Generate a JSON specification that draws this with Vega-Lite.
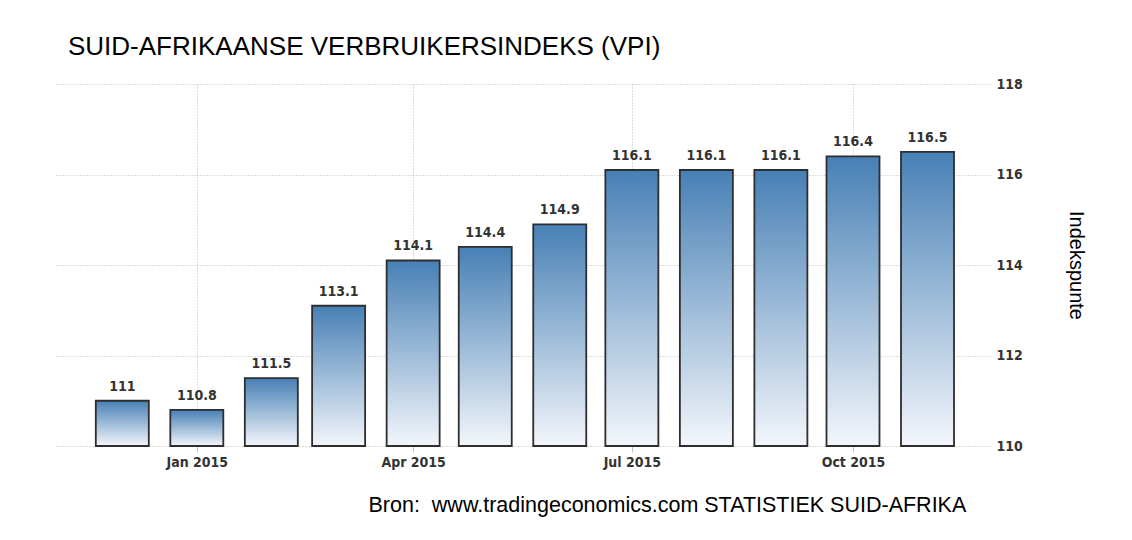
{
  "$schema": "https://vega.github.io/schema/vega-lite/v6.json",
  "width": 935,
  "height": 362,
  "autosize": "none",
  "padding": {"left": 55, "top": 84, "right": 142, "bottom": 94},
  "background": "white",
  "title": {
    "text": "SUID-AFRIKAANSE VERBRUIKERSINDEKS (VPI)",
    "anchor": "start",
    "frame": "group",
    "font": "Liberation Sans",
    "fontSize": 26,
    "fontWeight": "normal",
    "color": "#000000",
    "baseline": "alphabetic",
    "dx": 13,
    "dy": 34,
    "offset": 30
  },
  "data": {
    "values": [
      {"date": "2014/12/01", "value": 111.0},
      {"date": "2015/01/01", "value": 110.8},
      {"date": "2015/02/01", "value": 111.5},
      {"date": "2015/03/01", "value": 113.1},
      {"date": "2015/04/01", "value": 114.1},
      {"date": "2015/05/01", "value": 114.4},
      {"date": "2015/06/01", "value": 114.9},
      {"date": "2015/07/01", "value": 116.1},
      {"date": "2015/08/01", "value": 116.1},
      {"date": "2015/09/01", "value": 116.1},
      {"date": "2015/10/01", "value": 116.4},
      {"date": "2015/11/01", "value": 116.5}
    ]
  },
  "encoding": {
    "x": {
      "field": "date",
      "type": "temporal",
      "scale": {"domain": [{"year": 2014, "month": 11, "date": 3}, {"year": 2015, "month": 11, "date": 27}], "padding": 0, "nice": false},
      "axis": {
        "values": [
          {"year": 2015, "month": 1, "date": 1},
          {"year": 2015, "month": 4, "date": 1},
          {"year": 2015, "month": 7, "date": 1},
          {"year": 2015, "month": 10, "date": 1}
        ],
        "format": "%b %Y",
        "domain": false,
        "grid": true,
        "gridDash": [1, 2],
        "gridColor": "#b8b8b8",
        "ticks": true,
        "tickSize": 6,
        "tickColor": "#c4c4c4",
        "labelFont": "DejaVu Sans Condensed, DejaVu Sans",
        "labelFontSize": 14,
        "labelFontWeight": "bold",
        "labelColor": "#333333",
        "labelPadding": 3,
        "title": "Bron:\u00a0 www.tradingeconomics.com STATISTIEK SUID-AFRIKA",
        "titleFont": "Liberation Sans",
        "titleFontSize": 21.5,
        "titleFontWeight": "normal",
        "titleColor": "#000000",
        "titleAlign": "left",
        "titleAnchor": "start",
        "titleBaseline": "alphabetic",
        "titleX": 313,
        "titleY": 65
      }
    },
    "y": {
      "field": "value",
      "type": "quantitative",
      "scale": {"domain": [110, 118], "zero": false, "nice": false},
      "axis": {
        "orient": "right",
        "values": [110, 112, 114, 116, 118],
        "domain": false,
        "ticks": false,
        "grid": true,
        "gridDash": [1, 2],
        "gridColor": "#b8b8b8",
        "labelFont": "DejaVu Sans Condensed, DejaVu Sans",
        "labelFontSize": 14,
        "labelFontWeight": "bold",
        "labelColor": "#333333",
        "labelPadding": 6,
        "title": "Indekspunte",
        "titleFont": "Liberation Sans",
        "titleFontSize": 20,
        "titleFontWeight": "normal",
        "titleColor": "#000000",
        "titlePadding": 43
      }
    }
  },
  "layer": [
    {
      "mark": {
        "type": "bar",
        "size": 53,
        "stroke": "#2e2e2e",
        "strokeWidth": 1.8,
        "fill": {
          "gradient": "linear",
          "x1": 0, "y1": 0, "x2": 0, "y2": 1,
          "stops": [
            {"offset": 0, "color": "#4780b5"},
            {"offset": 1, "color": "#f3f6fb"}
          ]
        }
      },
      "encoding": {
        "y2": {"datum": 110}
      }
    },
    {
      "mark": {
        "type": "text",
        "baseline": "alphabetic",
        "dy": -10,
        "font": "DejaVu Sans Condensed, DejaVu Sans",
        "fontSize": 14,
        "fontWeight": "bold",
        "color": "#333333"
      },
      "encoding": {
        "text": {"field": "value", "type": "quantitative", "format": ".4~"}
      }
    }
  ],
  "config": {"view": {"stroke": null}}
}
